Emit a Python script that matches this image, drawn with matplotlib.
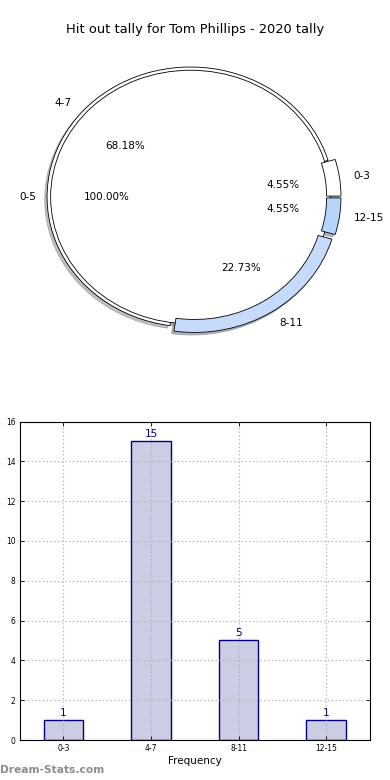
import matplotlib
matplotlib.use("Agg")
import matplotlib.pyplot as plt
import numpy as np

title = "Hit out tally for Tom Phillips - 2020 tally"
inner_labels = ["0-5"]
inner_values = [22]
ring_labels = ["0-3", "4-7", "8-11", "12-15"]
ring_values = [1, 15, 5, 1]
ring_colors = ["#ffffff", "#ffffff", "#c6dbfc", "#b7d5fb"]
ring_explode = [0.05, 0.0, 0.05, 0.05]
bar_labels = ["0-3", "4-7", "8-11", "12-15"]
bar_values = [1, 15, 5, 1]
xlabel = "Frequency"
ylabel = "Hit out tally"
watermark = "Dream-Stats.com"

W, H = 390, 780
fig = plt.figure(figsize=(3.9, 7.8), dpi=100)
plt.rcParams['font.family'] = ['DejaVu Sans']

# ---- pie area ----
ax1 = fig.add_axes([11.2 / W, 420.5 / H, 358.5 / W, 325 / H])
shadow_kw = {'ox': -0.012, 'oy': -0.014, 'shade': 0.5}
wr, tr, ar = ax1.pie(ring_values, labels=ring_labels, colors=ring_colors,
                     explode=ring_explode, autopct='%1.2f%%', startangle=0,
                     radius=1.0, shadow=shadow_kw,
                     wedgeprops=dict(width=0.1, edgecolor='black', linewidth=0.6),
                     textprops=dict(fontsize=7.5))
wi, ti, ai = ax1.pie(inner_values, labels=inner_labels, colors=['white'],
                     autopct='%1.2f%%', startangle=0, radius=0.975,
                     shadow=shadow_kw,
                     wedgeprops=dict(edgecolor='black', linewidth=0.6),
                     textprops=dict(fontsize=7.5))
for w in wi:
    w.set_zorder(2)
for w, e in zip(wr, ring_explode):
    if e > 0:
        w.set_zorder(3)
for t in list(tr) + list(ar) + list(ti) + list(ai):
    t.set_zorder(5)
ax1.set_aspect('auto')
ax1.set_xlim(-1.25, 1.25)
ax1.set_ylim(-1.25, 1.25)
ax1.axis('off')
fig.text(0.5, 1 - 30 / H, title, ha='center', va='center', fontsize=9.4)

# ---- bar chart ----
ax2 = fig.add_axes([19.5 / W, (H - 740) / H, (370 - 19.5) / W, (740 - 421.5) / H])
x = np.arange(len(bar_values))
bars = ax2.bar(x, bar_values, width=0.45, color='#ccccE5', edgecolor='#000080',
               linewidth=1.0, zorder=1)
for xi, v in zip(x, bar_values):
    ax2.text(xi, v + 0.12, str(v), ha='center', va='bottom', color='#000080',
             fontsize=7.5, zorder=4)
ax2.set_xlim(-0.5, 3.5)
ax2.set_ylim(0, 16)
ax2.set_yticks(np.arange(0, 17, 2))
ax2.set_xticks(x)
ax2.set_xticklabels(bar_labels)
ax2.tick_params(axis='both', labelsize=5.5, direction='in', top=True, right=True,
                length=3, width=0.6, pad=3)
ax2.grid(True, linestyle=(0, (1, 2)), color='#b0b0b0', linewidth=0.9)
ax2.set_axisbelow(False)
for s in ax2.spines.values():
    s.set_linewidth(0.8)
    s.set_zorder(6)
ax2.set_xlabel(xlabel, fontsize=7.5, labelpad=2)
ax2.set_ylabel(ylabel, fontsize=7.5, labelpad=4)
fig.text(0.0, 1 - 770 / H, watermark, ha='left', va='center', fontsize=7.7,
         color='#8c8c8c', fontweight='semibold')

fig.savefig("out.png", dpi=100)
